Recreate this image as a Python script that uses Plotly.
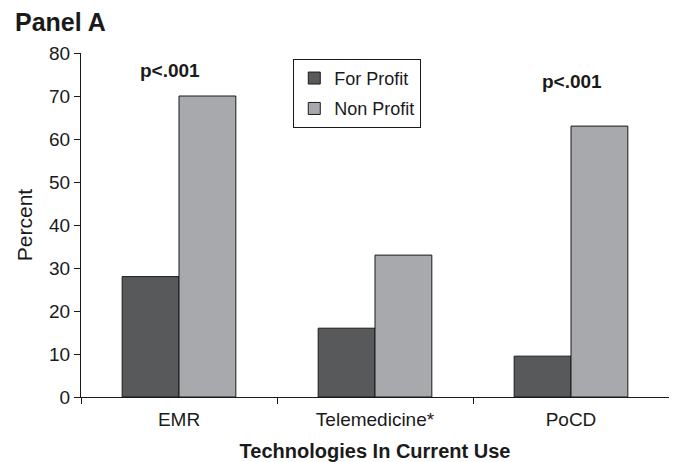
import plotly.graph_objects as go

categories = ["EMR", "Telemedicine*", "PoCD"]
for_profit = [28, 16, 9.5]
non_profit = [70, 33, 63]
sig_labels = ["p<.001", "", "p<.001"]
sig_y = [75.9, None, 73.3]

FONT = "Liberation Sans, Arial, sans-serif"
INK = "#1a1a1a"

fig = go.Figure()
fig.add_trace(go.Bar(
    x=categories, y=for_profit, name="For Profit", legendgroup="fp",
    marker=dict(color="#58595b", line=dict(color=INK, width=1)),
))
fig.add_trace(go.Bar(
    x=categories, y=non_profit, name="Non Profit", legendgroup="np",
    marker=dict(color="#a7a9ac", line=dict(color=INK, width=1)),
))

# significance labels above the groups
for cat, lab, yy, dx in zip(categories, sig_labels, sig_y, [-9, 0, 1]):
    if lab:
        fig.add_annotation(x=cat, y=yy, text="<b>%s</b>" % lab, showarrow=False,
                           font=dict(size=19, color=INK, family=FONT), xshift=dx)

# the page body adds an 8px offset, so margins are shifted to compensate
fig.update_layout(
    width=677, height=462,
    margin=dict(l=73, r=16, t=45, b=73),
    plot_bgcolor="white", paper_bgcolor="white",
    font=dict(family=FONT, size=19, color=INK),
    barmode="group", bargap=0.42, bargroupgap=0,
    title=dict(text="<b>Panel A</b>", x=0.0103, xanchor="left", y=0.97, yanchor="middle",
               font=dict(size=25, family=FONT)),
    showlegend=True,
    legend=dict(x=0.361, y=0.983, xanchor="left", yanchor="top",
                bordercolor=INK, borderwidth=1, bgcolor="white",
                font=dict(size=18), itemwidth=30, tracegroupgap=4),
    xaxis=dict(showline=True, linecolor=INK, linewidth=1, automargin=False,
               ticks="outside", tickson="boundaries", ticklen=6, tickcolor=INK,
               ticklabelstandoff=5,
               title=dict(text="<b>Technologies In Current Use</b>", font=dict(size=20), standoff=15),
               tickfont=dict(size=19)),
    yaxis=dict(range=[0, 80], dtick=10, showgrid=False, zeroline=False, automargin=False,
               showline=True, linecolor=INK, linewidth=1,
               ticks="outside", ticklen=6, tickcolor=INK,
               title=dict(text="Percent", font=dict(size=21), standoff=10),
               tickfont=dict(size=19)),
)

fig.write_html("out.html")
